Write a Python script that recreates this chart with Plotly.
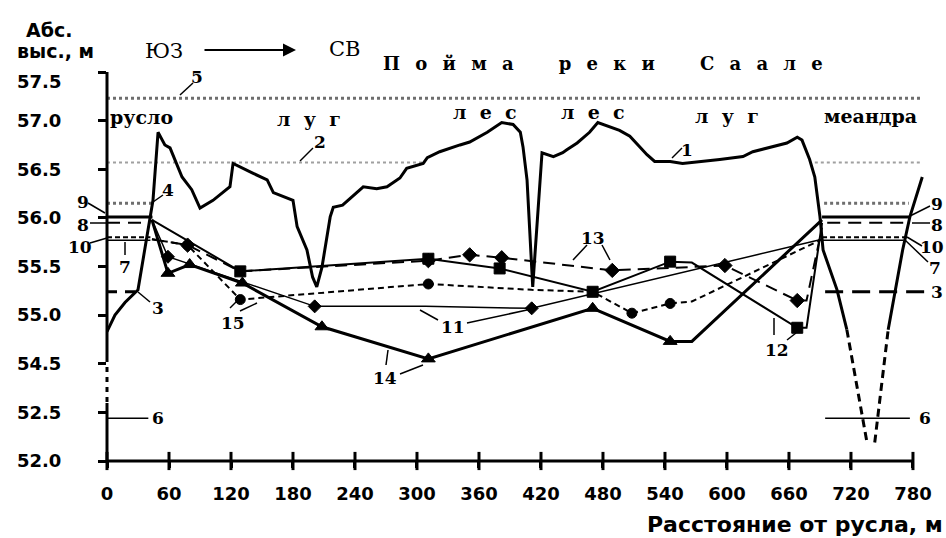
import plotly.graph_objects as go

# ---------------- data (distance, m ; absolute height, m) ----------------
profile_x = [0, 7.7, 17.4, 30, 44.5, 49.4, 56, 61, 72.6, 82, 90, 102.6, 119, 122, 141, 155, 161, 174, 180,
             184, 193.5, 199, 203, 208, 216, 219, 228, 248, 261, 271, 283.5, 290, 306, 310, 322, 341.6, 351,
             368, 382, 393, 400, 402.6, 406.5, 412, 421, 432, 441, 445, 455, 467, 475, 496, 506, 522.6, 530,
             545, 557, 593, 615.5, 625, 644.5, 658, 668, 672.6, 680, 685, 690, 693, 706.5, 716]
profile_y = [54.83, 55.0, 55.13, 55.26, 56.18, 56.88, 56.75, 56.72, 56.42, 56.29, 56.1, 56.18, 56.32, 56.56,
             56.46, 56.39, 56.26, 56.2, 56.18, 55.91, 55.67, 55.39, 55.29, 55.49, 56.01, 56.11, 56.13, 56.32,
             56.3, 56.32, 56.41, 56.51, 56.56, 56.62, 56.68, 56.75, 56.78, 56.88, 56.98, 56.96, 56.88, 56.73,
             56.39, 55.29, 56.67, 56.63, 56.67, 56.7, 56.77, 56.88, 56.98, 56.9, 56.84, 56.65, 56.58, 56.58,
             56.56, 56.6, 56.63, 56.68, 56.73, 56.77, 56.83, 56.8, 56.6, 56.42, 56.01, 55.67, 55.26, 54.85]
meander_l_x = [716, 735.5]
meander_l_y = [54.85, 52.19]
meander_r_x = [743, 756]
meander_r_y = [52.19, 54.85]
bank_r_x = [756, 770, 777, 784, 789]
bank_r_y = [54.85, 55.67, 56.01, 56.26, 56.42]

s11_x = [43.5, 59, 129, 201, 308, 411, 692]
s11_y = [55.98, 55.6, 55.35, 55.09, 55.09, 55.07, 55.78]
s11_m = [0, 1, 0, 1, 0, 1, 0]

s12_x = [43.5, 129, 311, 380, 470, 545, 566, 668, 677, 692]
s12_y = [55.98, 55.45, 55.58, 55.48, 55.24, 55.55, 55.54, 54.87, 54.87, 55.95]
s12_m = [0, 1, 1, 1, 1, 1, 0, 1, 0, 0]

s13_x = [43.5, 78, 129, 311, 351, 382, 489, 598, 668, 677, 692]
s13_y = [55.78, 55.72, 55.45, 55.56, 55.62, 55.59, 55.46, 55.51, 55.15, 55.15, 55.9]
s13_m = [0, 1, 0, 1, 1, 1, 1, 1, 1, 0, 0]

s14_x = [43.5, 59, 80, 131, 208, 311, 470, 545, 566, 692]
s14_y = [55.98, 55.43, 55.52, 55.33, 54.88, 54.55, 55.07, 54.73, 54.73, 55.98]
s14_m = [0, 1, 1, 1, 1, 1, 1, 1, 0, 0]

s15_x = [43.5, 78, 129, 311, 411, 470, 508, 545, 566, 692]
s15_y = [55.78, 55.72, 55.16, 55.32, 55.26, 55.24, 55.02, 55.12, 55.14, 55.78]
s15_m = [0, 1, 1, 1, 0, 0, 1, 1, 0, 0]

# horizontal levels: level and x extents of left / right segments
lvl5 = 57.23; lvl5_x = [0, 789]
lvl2 = 56.57; lvl2_xl = [0, 308]; lvl2_xr = [685, 789]
lvl4 = 56.15; lvl4_xl = [0, 44]; lvl4_xr = [694, 776]
lvl9 = 56.01; lvl9_xl = [0, 44]; lvl9_xr = [692, 777]
lvl8 = 55.95; lvl8_xl = [0, 42]; lvl8_xr = [697, 777]
lvl10 = 55.80; lvl10_xl = [0, 42]; lvl10_xr = [692, 775]
lvl7 = 55.77; lvl7_xl = [0, 42]; lvl7_xr = [692, 771]
lvl3 = 55.24; lvl3_xl = [0, 30]; lvl3_xr = [695, 797]
lvl6 = 52.44; lvl6_xl = [0, 40]; lvl6_xr = [695, 777]

y_ticks_m = [52.0, 52.5, 54.5, 55.0, 55.5, 56.0, 56.5, 57.0, 57.5]
y_tick_text = ["52.0", "52.5", "54.5", "55.0", "55.5", "56.0", "56.5", "57.0", "57.5"]
x_ticks = [0, 60, 120, 180, 240, 300, 360, 420, 480, 540, 600, 660, 720, 780]


# broken axis: 52.0-52.5 and 54.5-57.5 at 0.5 m per step, 52.5-54.5 squeezed into one step
def to_u(m):
    if m <= 52.5:
        return (m - 52.0) / 0.5
    if m <= 54.5:
        return 1 + (m - 52.5) / 2.0
    return 2 + (m - 54.5) / 0.5


def U(lst):
    return [to_u(v) for v in lst]


fig = go.Figure()
BLK = "#000000"


def line(x, y, width, dash="solid", color=BLK):
    fig.add_trace(go.Scatter(x=x, y=U(y), mode="lines", line=dict(color=color, width=width, dash=dash),
                             showlegend=False, hoverinfo="skip"))


def series(x, y, flags, width, dash, symbol, msize):
    fig.add_trace(go.Scatter(x=x, y=U(y), mode="lines", line=dict(color=BLK, width=width, dash=dash),
                             showlegend=False, hoverinfo="skip"))
    mx = [a for a, f in zip(x, flags) if f]
    my = [b for b, f in zip(y, flags) if f]
    fig.add_trace(go.Scatter(x=mx, y=U(my), mode="markers", opacity=1,
                             marker=dict(symbol=symbol, color=BLK, size=msize, opacity=1,
                                         line=dict(width=1, color=BLK)),
                             showlegend=False, hoverinfo="skip"))


# reference levels
line(lvl5_x, [lvl5] * 2, 3, "dot", "#6e6e6e")
line(lvl2_xl, [lvl2] * 2, 2, "dot", "#a0a0a0")
line(lvl2_xr, [lvl2] * 2, 2, "dot", "#a0a0a0")
line(lvl4_xl, [lvl4] * 2, 3, "dot", "#6e6e6e")
line(lvl4_xr, [lvl4] * 2, 3, "dot", "#6e6e6e")
line(lvl9_xl, [lvl9] * 2, 3)
line(lvl9_xr, [lvl9] * 2, 3)
line(lvl8_xl, [lvl8] * 2, 2, "13px,8px")
line(lvl8_xr, [lvl8] * 2, 2, "13px,8px")
line(lvl7_xl, [lvl7] * 2, 1.5)
line(lvl7_xr, [lvl7] * 2, 1.5)
line(lvl10_xl, [lvl10] * 2, 2, "5px,3px")
line(lvl10_xr, [lvl10] * 2, 2, "5px,3px")
line(lvl3_xl, [lvl3] * 2, 3, "10px,8px")
line(lvl3_xr, [lvl3] * 2, 3, "18px,9px")
line(lvl6_xl, [lvl6] * 2, 1.5)
line(lvl6_xr, [lvl6] * 2, 1.5)

# ground profile
line(profile_x, profile_y, 3)
line(meander_l_x, meander_l_y, 3, "8px,5px")
line(meander_r_x, meander_r_y, 3, "8px,5px")
line(bank_r_x, bank_r_y, 3)

# series
series(s11_x, s11_y, s11_m, 1.5, "solid", "diamond", 10)
series(s12_x, s12_y, s12_m, 2, "solid", "square", 11)
series(s13_x, s13_y, s13_m, 2, "12px,7px", "diamond", 11)
series(s14_x, s14_y, s14_m, 3, "solid", "triangle-up", 12)
series(s15_x, s15_y, s15_m, 2, "6px,4px", "circle", 10)

# crossing x ticks
fig.add_trace(go.Scatter(x=x_ticks, y=[0] * len(x_ticks), mode="markers", cliponaxis=False,
                         marker=dict(symbol="line-ns", size=13, line=dict(width=3, color=BLK)),
                         showlegend=False, hoverinfo="skip"))

L, R, T, B = 107, 2, 72, 77
PW, PH = 946 - L - R, 538 - T - B


def P(px, py):
    return (px - L) / PW, (538 - B - py) / PH


shapes = []


def seg(p1, p2, width=1.5, dash="solid"):
    x0, y0 = P(*p1)
    x1, y1 = P(*p2)
    shapes.append(dict(type="line", xref="paper", yref="paper", x0=x0, y0=y0, x1=x1, y1=y1,
                       line=dict(color=BLK, width=width, dash=dash)))


# axes lines
seg((107, 461), (913, 461), 3)
seg((107, 461), (107, 403), 3)
seg((107, 402), (107, 362), 3, "5px,5px")
seg((107, 362), (107, 72), 3)

# leaders
for a, b in [((180, 95), (193, 83)), ((300, 161), (313, 148)), ((672, 158), (682, 148)),
             ((153, 202), (163, 195)), ((138, 292), (150, 302)), ((230, 308), (238, 300)),
             ((240, 311), (257, 303)), ((420, 310), (438, 320)), ((467, 323), (527, 310)),
             ((388, 350), (386, 365)), ((400, 374), (423, 365)), ((587, 245), (573, 260)),
             ((602, 245), (610, 260)), ((774, 318), (774, 335)), ((787, 340), (796, 333)),
             ((88, 203), (105, 213)), ((90, 223), (107, 223)), ((90, 243), (107, 238)),
             ((125, 242), (125, 255)), ((910, 216), (930, 206)), ((912, 223), (930, 223)),
             ((907, 237), (922, 246)), ((905, 240), (928, 262))]:
    seg(a, b, 1.5)

ann = []
SERIF = "DejaVu Serif"
SANS = "DejaVu Sans"


def txt(s, px, py, size=17, family=SERIF, weight="bold", xanchor="center"):
    x, y = P(px, py)
    ann.append(dict(text=s, x=x, y=y, xref="paper", yref="paper", showarrow=False, xanchor=xanchor,
                    yanchor="middle", font=dict(family=family, size=size, color=BLK, weight=weight)))


for s, px, py in [("5", 197, 77), ("2", 320, 142), ("1", 687, 150), ("4", 168, 190), ("3", 158, 308),
                  ("15", 233, 323), ("11", 453, 327), ("14", 385, 378), ("13", 593, 238),
                  ("12", 777, 350), ("9", 83, 202), ("8", 83, 225), ("10", 80, 247), ("7", 125, 267),
                  ("6", 158, 418), ("9", 937, 204), ("8", 937, 225), ("10", 932, 247), ("7", 935, 268),
                  ("3", 937, 292), ("6", 925, 418)]:
    txt(s, px, py)

SP = "\u2002\u2009"
for s, px, py in [("русло", 141, 117), (SP.join("луг"), 309, 119), (SP.join("лес"), 485, 112),
                  (SP.join("лес"), 593, 112), (SP.join("луг"), 727, 116), ("меандра", 870, 116)]:
    txt(s, px, py, 19)

LS = "\u2002 "
WS = "\u2003\u2003\u2002"
title = WS.join(LS.join(w) for w in ["Пойма", "реки", "Саале"])
txt(title, 603, 63, 18)
txt("ЮЗ", 164, 51, 21, weight="normal")
txt("СВ", 345, 49, 21, weight="normal")
x1, y1 = P(296, 50)
ann.append(dict(x=x1, y=y1, ax=-93, ay=0, xref="paper", yref="paper", axref="pixel", ayref="pixel",
                text="", showarrow=True, arrowhead=2, arrowsize=1.3, arrowwidth=2, arrowcolor=BLK))
txt("Абс.", 49, 30, 19, SANS)
txt("выс., м", 55, 51, 19, SANS)
txt("Расстояние от русла, м", 945, 524, 22, SANS, xanchor="right")
# top tick label sits a little below the axis end in the original
txt(y_tick_text[-1], 63, 81, 18, SANS, xanchor="right")
y_tick_shown = y_tick_text[:-1] + [""]

fig.update_layout(
    width=946, height=538, margin=dict(l=L, r=R, t=T, b=B),
    paper_bgcolor="white", plot_bgcolor="white", showlegend=False,
    shapes=shapes, annotations=ann,
    xaxis=dict(range=[0, PW / 1.0333], showgrid=False, zeroline=False, showline=False,
               tickvals=x_ticks, ticktext=[str(v) for v in x_ticks], ticks="outside", ticklen=6,
               tickwidth=3, tickcolor=BLK, ticklabelstandoff=10,
               tickfont=dict(family=SANS, size=18, color=BLK, weight="bold")),
    yaxis=dict(range=[0, 8], showgrid=False, zeroline=False, showline=False,
               tickvals=U(y_ticks_m), ticktext=y_tick_shown, ticks="outside", ticklen=8,
               tickwidth=2.5, tickcolor=BLK, ticklabelstandoff=33,
               tickfont=dict(family=SANS, size=18, color=BLK, weight="bold")),
)

fig.write_html("out.html", config={"displayModeBar": False},
               post_script="document.body.style.margin='0px';")
